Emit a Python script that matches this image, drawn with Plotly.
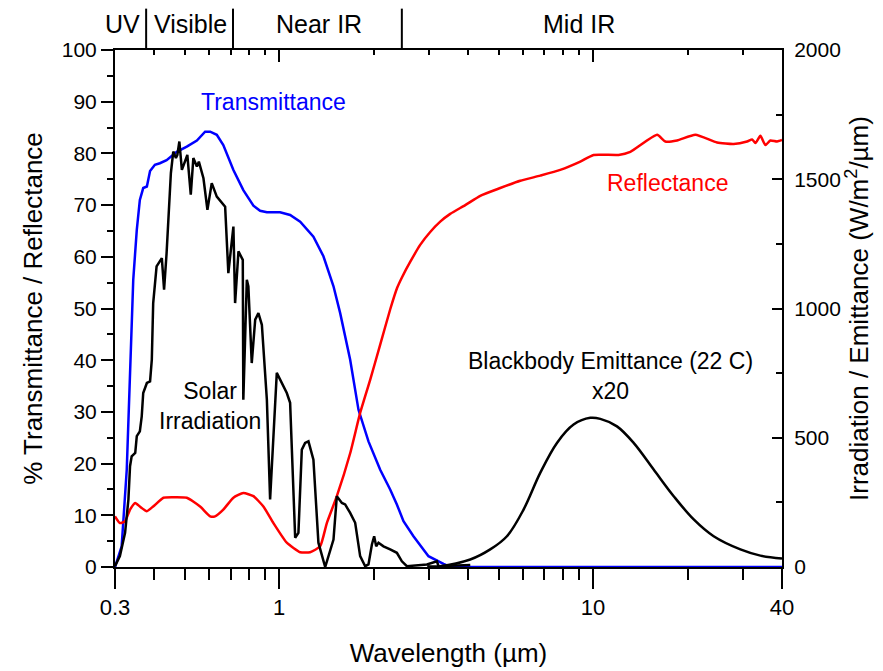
import numpy as np
import plotly.graph_objects as go

# ---------------- data ----------------
# Transmittance (%), left axis
trans_wl = [0.300, 0.315, 0.327, 0.335, 0.343, 0.352, 0.360, 0.369, 0.379, 0.388,
            0.402, 0.417, 0.438, 0.472, 0.508, 0.547, 0.581, 0.603, 0.633, 0.664,
            0.715, 0.769, 0.828, 0.870, 0.914, 1.007, 1.084, 1.167, 1.286, 1.384,
            1.490, 1.565, 1.684, 1.790, 1.926, 2.099, 2.258, 2.372, 2.490, 2.679,
            2.991, 3.339, 3.508, 40.0]
trans_val = [0.0, 4.0, 18.8, 38.5, 55.6, 65.2, 71.0, 73.3, 73.6, 76.6,
             77.8, 78.1, 78.7, 80.3, 81.3, 82.5, 84.2, 84.2, 83.6, 81.6,
             76.8, 72.9, 69.9, 68.9, 68.6, 68.6, 68.1, 66.8, 63.9, 60.1,
             54.3, 49.1, 40.1, 30.4, 24.3, 18.8, 15.0, 12.1, 8.85, 5.95,
             2.09, 0.62, 0.0, 0.0]

# Reflectance (%), left axis
refl_wl = [0.300, 0.311, 0.323, 0.335, 0.348, 0.360, 0.379, 0.397, 0.428, 0.460,
           0.508, 0.560, 0.603, 0.625, 0.664, 0.715, 0.769, 0.828, 0.891, 0.959,
           1.058, 1.167, 1.255, 1.351, 1.419, 1.527, 1.684, 1.812, 1.950, 2.099,
           2.258, 2.377, 2.466, 2.615, 2.814, 3.029, 3.260, 3.508, 3.917, 4.373,
           5.063, 5.864, 6.789, 7.863, 9.109, 10.04, 12.06, 13.15, 16.0, 17.0,
           18.52, 21.19, 24.84, 28.06, 30.96, 32.13, 32.92, 34.13, 35.43, 36.73,
           38.58, 40.0]
refl_val = [9.8, 8.5, 8.85, 11.1, 12.4, 11.7, 10.8, 11.7, 13.4, 13.5,
            13.4, 11.7, 9.8, 9.8, 11.1, 13.4, 14.3, 13.7, 11.7, 8.5,
            4.7, 2.86, 2.86, 4.0, 8.5, 13.7, 22.0, 29.8, 36.2, 43.0,
            49.8, 54.0, 56.1, 59.0, 62.3, 64.8, 66.8, 68.3, 70.0, 71.8,
            73.3, 74.7, 75.7, 76.8, 78.4, 79.7, 79.7, 80.3, 83.6, 82.3,
            82.5, 83.6, 82.1, 81.8, 82.3, 82.7, 82.0, 83.4, 81.6, 82.5,
            82.3, 82.6]

# Solar irradiation (W/m2/um), right axis
solar_wl = [0.300, 0.311, 0.323, 0.331, 0.335, 0.339, 0.348, 0.352, 0.360, 0.365,
            0.369, 0.379, 0.388, 0.393, 0.397, 0.407, 0.423, 0.430, 0.438, 0.452,
            0.460, 0.469, 0.474, 0.481, 0.490, 0.510, 0.523, 0.533, 0.547, 0.555,
            0.574, 0.591, 0.610, 0.633, 0.673, 0.689, 0.715, 0.724, 0.742, 0.766,
            0.769, 0.789, 0.798, 0.818, 0.839, 0.859, 0.881, 0.902, 0.914, 0.936,
            0.983, 1.058, 1.084, 1.125, 1.152, 1.181, 1.210, 1.240, 1.286, 1.334,
            1.402, 1.490, 1.527, 1.585, 1.623, 1.684, 1.747, 1.812, 1.880, 1.926,
            1.975, 2.008, 2.038, 2.073, 2.150, 2.258, 2.372, 2.461, 2.553, 2.956,
            3.182, 3.219, 4.064]
solar_val = [3, 42, 132, 261, 390, 428, 441, 506, 525, 583,
             673, 712, 718, 802, 1021, 1163, 1195, 1073, 1214, 1524,
             1607, 1582, 1594, 1646, 1536, 1594, 1440, 1582, 1549, 1568,
             1504, 1382, 1485, 1433, 1394, 1137, 1317, 1021, 1221, 1188,
             647, 1111, 1085, 789, 957, 982, 937, 763, 647, 261,
             751, 673, 635, 113, 132, 454, 480, 486, 415, 94,
             0, 106, 274, 248, 242, 209, 171, 42, 3, 10,
             87, 119, 80, 94, 80, 68, 55, 22, 3, 10,
             22, 3, 8]

# Blackbody emittance (22 C) x20 (W/m2/um), right axis
bb_wl = [2.963, 3.260, 4.064, 4.704, 5.318, 6.007, 6.789, 7.675, 8.671, 9.801,
         10.55, 11.92, 13.47, 15.60, 18.07, 20.93, 24.23, 29.48, 34.13, 40.0]
bb_val = [3, 3, 29, 68, 119, 222, 364, 480, 551, 577,
          573, 544, 480, 377, 274, 184, 119, 68, 44, 33]

# axes / ticks
x_range_um = [0.3, 40]
x_major = [0.3, 1, 10, 40]
x_major_text = ["0.3", "1", "10", "40"]
x_minor = [0.4, 0.5, 0.6, 0.7, 0.8, 0.9, 2, 3, 4, 5, 6, 7, 8, 9, 20, 30]
left_major = list(range(0, 101, 10))
left_minor = list(range(5, 100, 10))
right_major = [0, 500, 1000, 1500, 2000]
right_minor = [250, 750, 1250, 1750]

# spectral regions
band_edges = [0.377, 0.713, 2.46]
band_names = ["UV", "Visible", "Near IR", "Mid IR"]
band_label_wl = [0.318, 0.522, 1.336, 9.0]

# ---------------- figure ----------------
FONT = "Arial, 'Liberation Sans', sans-serif"
fig = go.Figure()
fig.add_trace(go.Scatter(x=trans_wl, y=trans_val, mode="lines",
                         line=dict(color="#0000FF", width=2.5),
                         showlegend=False, hoverinfo="skip"))
fig.add_trace(go.Scatter(x=refl_wl, y=refl_val, mode="lines",
                         line=dict(color="#FF0000", width=2.5, shape="spline", smoothing=0.5),
                         showlegend=False, hoverinfo="skip"))
fig.add_trace(go.Scatter(x=solar_wl, y=solar_val, mode="lines", yaxis="y2",
                         line=dict(color="black", width=2.5), showlegend=False, hoverinfo="skip"))
fig.add_trace(go.Scatter(x=bb_wl, y=bb_val, mode="lines", yaxis="y2",
                         line=dict(color="black", width=2.5, shape="spline", smoothing=1.0),
                         showlegend=False, hoverinfo="skip"))
# dummy trace to register the top axis
fig.add_trace(go.Scatter(x=[1], y=[None], xaxis="x2", yaxis="y", mode="lines",
                         showlegend=False, hoverinfo="skip"))

xr = [np.log10(x_range_um[0]), np.log10(x_range_um[1])]
common_line = dict(showline=True, linewidth=2, linecolor="black", showgrid=False, zeroline=False)

fig.update_layout(
    width=875, height=663,
    margin=dict(l=107, r=101, t=42, b=104, autoexpand=False),
    paper_bgcolor="white", plot_bgcolor="white",
    font=dict(family=FONT, color="black", size=21),
    showlegend=False,
    xaxis=dict(type="log", range=xr, tickmode="array", tickvals=x_major, ticktext=x_major_text,
               ticks="outside", ticklen=20, tickwidth=2, tickcolor="black",
               minor=dict(tickmode="array", tickvals=x_minor, ticks="outside", ticklen=11,
                          tickwidth=2, tickcolor="black", showgrid=False),
               tickfont=dict(size=22), layer="below traces",
               title=dict(text="Wavelength (µm)", font=dict(size=26), standoff=24),
               **common_line),
    xaxis2=dict(type="log", range=xr, overlaying="x", side="top", anchor="y",
                tickmode="array", tickvals=x_major, ticks="inside", ticklen=12, tickwidth=2,
                tickcolor="black", showticklabels=False,
                minor=dict(tickmode="array", tickvals=x_minor, ticks="inside", ticklen=5,
                           tickwidth=2, tickcolor="black", showgrid=False),
                **common_line),
    yaxis=dict(range=[0, 100], tickmode="array", tickvals=left_major,
               ticks="outside", ticklen=12, tickwidth=2, tickcolor="black",
               minor=dict(tickmode="array", tickvals=left_minor, ticks="outside", ticklen=6,
                          tickwidth=2, tickcolor="black", showgrid=False),
               tickfont=dict(size=21), layer="below traces",
               title=dict(text="% Transmittance / Reflectance", font=dict(size=26), standoff=12),
               **common_line),
    yaxis2=dict(range=[0, 2000], overlaying="y", side="right", anchor="x",
                tickmode="array", tickvals=right_major,
                ticks="inside", ticklen=10, tickwidth=2, tickcolor="black",
                ticklabelstandoff=6,
                minor=dict(tickmode="array", tickvals=right_minor, ticks="inside", ticklen=6,
                           tickwidth=2, tickcolor="black", showgrid=False),
                tickfont=dict(size=21), layer="below traces",
                title=dict(text="Irradiation / Emittance (W/m<sup>2</sup>/µm)", font=dict(size=26), standoff=8),
                **common_line),
)

# region separators and labels above the plot (shape x given in data units)
for edge in band_edges:
    fig.add_shape(type="line", xref="x", yref="paper",
                  x0=edge, x1=edge, y0=1.0, y1=1.08,
                  line=dict(color="black", width=2))
for name, wl in zip(band_names, band_label_wl):
    fig.add_annotation(x=np.log10(wl), y=1.05, xref="x", yref="paper", text=name,
                       showarrow=False, xanchor="center", yanchor="middle",
                       font=dict(size=25, color="black"))

# curve labels
fig.add_annotation(x=np.log10(0.957), y=90.0, xref="x", yref="y", text="Transmittance",
                   showarrow=False, font=dict(size=23, color="#0000FF"))
fig.add_annotation(x=np.log10(17.25), y=74.3, xref="x", yref="y", text="Reflectance",
                   showarrow=False, font=dict(size=23, color="#FF0000"))
fig.add_annotation(x=np.log10(0.6025), y=31.2, xref="x", yref="y", text="Solar<br>Irradiation",
                   showarrow=False, font=dict(size=23, color="black"))
fig.add_annotation(x=np.log10(11.35), y=37.0, xref="x", yref="y",
                   text="Blackbody Emittance (22 C)<br>x20",
                   showarrow=False, font=dict(size=23, color="black"))

fig.write_html("out.html")
